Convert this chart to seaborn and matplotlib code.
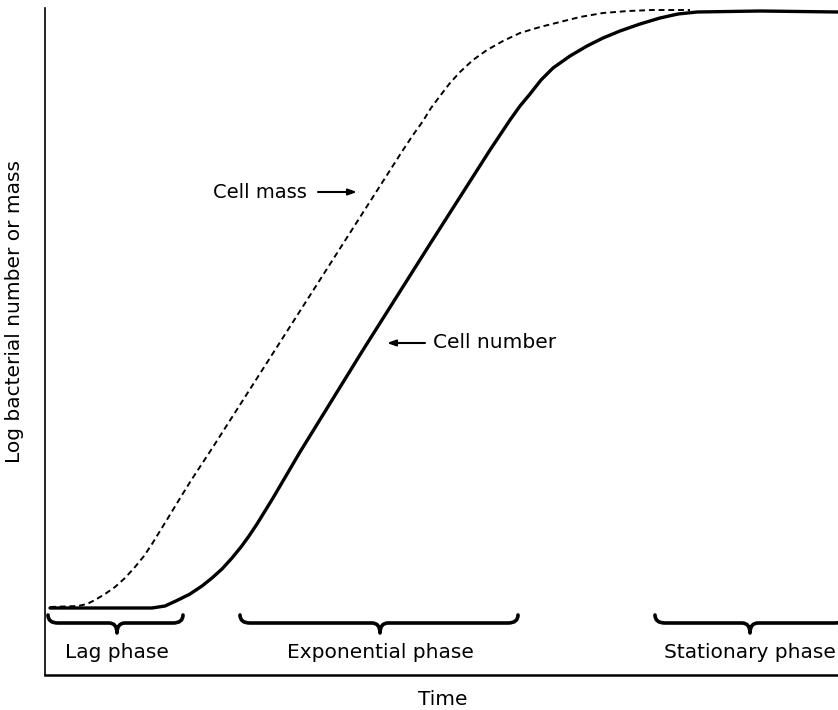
import matplotlib
matplotlib.use("Agg")
import seaborn as sns
import matplotlib.pyplot as plt
from matplotlib.path import Path
from matplotlib.patches import PathPatch

# 시간축 (임의 단위) 과 log 값 - 그림에서 읽은 값
time_number = [0.5, 5.5, 10.7, 12.0, 13.3, 14.5, 15.7, 16.7, 17.7, 18.7, 19.6, 20.4,
               21.2, 22.0, 22.8, 25.5, 31.8, 38.5, 44.5, 45.5, 46.5, 47.5, 48.5,
               49.6, 50.8, 52.5, 54.2, 55.8, 57.5, 59.5, 61.5, 63.3, 65.2, 71.5, 79.3]
log_number = [6.7, 6.7, 6.7, 6.9, 7.5, 8.1, 8.9, 9.7, 10.6, 11.7, 12.8, 13.9,
              15.1, 16.4, 17.7, 22.3, 32.5, 43.1, 52.5, 54.0, 55.5, 56.9, 58.1,
              59.5, 60.7, 61.9, 62.9, 63.7, 64.4, 65.1, 65.7, 66.1, 66.3, 66.4, 66.3]

time_mass = [0.5, 3.3, 4.2, 5.0, 6.0, 7.0, 8.0, 9.0, 9.9, 10.7, 11.5, 12.3, 13.7,
             14.7, 16.8, 25.5, 35.8, 36.8, 37.8, 38.6, 39.5, 40.5, 41.5, 42.8,
             44.2, 45.8, 47.5, 49.5, 51.5, 53.5, 55.8, 58.3, 60.8, 64.5]
log_mass = [6.8, 6.9, 7.1, 7.5, 8.1, 8.8, 9.7, 10.8, 11.9, 13.1, 14.4, 15.7, 18.0,
            19.6, 22.8, 36.4, 52.5, 54.0, 55.4, 56.7, 57.9, 59.2, 60.3, 61.5,
            62.5, 63.4, 64.2, 64.8, 65.3, 65.8, 66.2, 66.4, 66.5, 66.5]

# 각 phase 구간 (시작, 끝, 중앙)
phase_labels = ["Lag phase", "Exponential phase", "Stationary phase"]
phase_start = [0.3, 19.5, 61.0]
phase_end = [13.8, 47.3, 80.0]
phase_mid = [7.2, 33.5, 70.5]


def draw_brace(ax, x0, x1, xm, top=6.0, bar=5.2, tip=4.2):
    # 중괄호 모양 path
    verts = [
        (x0, top), (x0, bar), (x0 + 1.0, bar),
        (xm - 0.8, bar), (xm, bar), (xm, tip),
        (xm, bar), (xm + 0.8, bar),
        (x1 - 1.0, bar), (x1, bar), (x1, top),
    ]
    codes = [
        Path.MOVETO, Path.CURVE3, Path.CURVE3,
        Path.LINETO, Path.CURVE3, Path.CURVE3,
        Path.CURVE3, Path.CURVE3,
        Path.LINETO, Path.CURVE3, Path.CURVE3,
    ]
    patch = PathPatch(Path(verts, codes), fill=False, lw=2.6, edgecolor="black",
                      capstyle="round", joinstyle="round", clip_on=False)
    ax.add_patch(patch)


def main():
    sns.set_style("white")
    plt.rcParams["font.family"] = ["DejaVu Sans"]
    plt.rcParams["text.color"] = "black"
    plt.rcParams["axes.labelcolor"] = "black"

    fig = plt.figure(figsize=(8.38, 7.10), dpi=100)
    ax = fig.add_axes([45 / 838, 35 / 710, 793 / 838, 667 / 710])

    # 곡선 그리기
    sns.lineplot(x=time_number, y=log_number, ax=ax, color="black", lw=2.4,
                 estimator=None)
    sns.lineplot(x=time_mass, y=log_mass, ax=ax, color="black", lw=1.4,
                 linestyle=(0, (3, 2)), estimator=None)

    ax.set_xlim(0, 79.3)
    ax.set_ylim(0, 66.7)
    ax.set_xticks([])
    ax.set_yticks([])
    for side in ["top", "right"]:
        ax.spines[side].set_visible(False)
    ax.spines["left"].set_linewidth(1.2)
    ax.spines["bottom"].set_linewidth(1.8)
    ax.spines["left"].set_color("black")
    ax.spines["bottom"].set_color("black")

    # 라벨
    ax.set_xlabel("Time", fontsize=14.5)
    ax.xaxis.set_label_coords(0.502, -0.022)
    ax.set_ylabel("Log bacterial number or mass", fontsize=14.5)
    ax.yaxis.set_label_coords(-0.027, 0.545)

    # 화살표 주석
    ax.text(21.5, 48.3, "Cell mass", fontsize=14, ha="center", va="center")
    ax.annotate("", xy=(31.2, 48.3), xytext=(27.3, 48.3),
                arrowprops=dict(arrowstyle="-|>,head_length=0.5,head_width=0.18",
                                color="black", lw=1.5, shrinkA=0, shrinkB=0))
    ax.text(38.8, 33.2, "Cell number", fontsize=14.5, ha="left", va="center")
    ax.annotate("", xy=(34.2, 33.2), xytext=(38.0, 33.2),
                arrowprops=dict(arrowstyle="-|>,head_length=0.5,head_width=0.18",
                                color="black", lw=1.5, shrinkA=0, shrinkB=0))

    # phase 중괄호와 이름
    for label, x0, x1, xm in zip(phase_labels, phase_start, phase_end, phase_mid):
        draw_brace(ax, x0, x1, xm)
        ax.text(xm, 2.3, label, fontsize=14.5, ha="center", va="center")

    fig.savefig("out.png", dpi=100)


if __name__ == "__main__":
    main()
